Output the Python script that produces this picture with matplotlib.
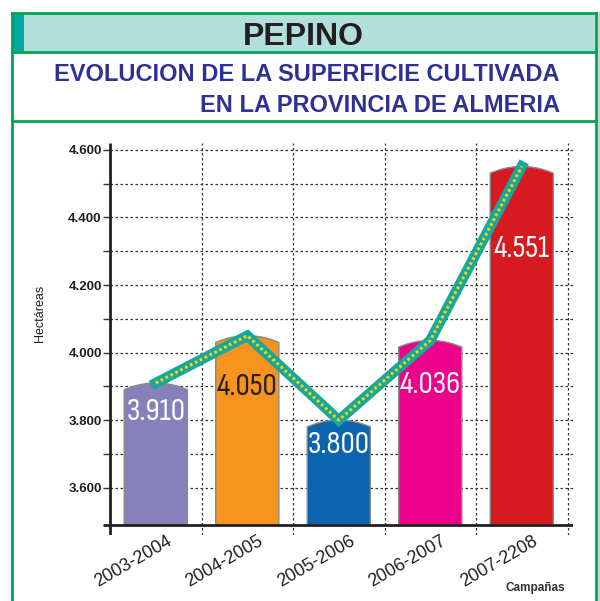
import matplotlib
matplotlib.use("Agg")
import matplotlib.pyplot as plt
from matplotlib.patches import Rectangle, Polygon
from matplotlib.ticker import FuncFormatter
import numpy as np

# data
campaigns = ["2003-2004", "2004-2005", "2005-2006", "2006-2007", "2007-2208"]
hectares = [3910, 4050, 3800, 4036, 4551]
bar_colors = ["#8680bb", "#f7941d", "#0a64ae", "#ec008c", "#d71920"]
label_colors = ["white", "#231f20", "white", "white", "white"]
label_baseline = [3800, 3874, 3703, 3880, 4282]  # where the value labels sit
y_major = [3600, 3800, 4000, 4200, 4400, 4600]
y_minor = [3700, 3900, 4100, 4300, 4500]

narrow = ["Sofia Sans Condensed", "Roboto Condensed", "Liberation Sans"]

def miles(v, pos=None):
    return f"{int(v):,}".replace(",", ".")

fig = plt.figure(figsize=(6, 6.01), dpi=100)

# header / frame drawn in pixel coords
bg = fig.add_axes([0, 0, 1, 1], zorder=0)
bg.set_xlim(0, 600)
bg.set_ylim(601, 0)
bg.axis("off")
green = "#00a651"
bg.add_patch(Rectangle((12, 13), 584, 39, facecolor="#b2dfdb", edgecolor="none"))
bg.add_patch(Rectangle((12, 13), 12, 39, facecolor="#00a99d", edgecolor="none"))
bg.plot([12, 596], [13, 13], color=green, lw=2)
bg.plot([12, 596], [52, 52], color=green, lw=2)
bg.plot([12, 596], [121, 121], color=green, lw=2)
bg.plot([12, 12], [13, 601], color=green, lw=2)
bg.plot([596, 596], [13, 601], color=green, lw=2)
bg.plot([599, 599], [13, 601], color="#d0d0d0", lw=2)
bg.text(303, 45, "PEPINO", ha="center", va="baseline", fontsize=23,
        fontweight="bold", color="#231f20", family="Liberation Sans")
bg.text(560, 81, "EVOLUCION DE LA SUPERFICIE CULTIVADA", ha="right", va="baseline",
        fontsize=17, fontweight="bold", color="#2e3192", family="Liberation Sans")
bg.text(560, 112, "EN LA PROVINCIA DE ALMERIA", ha="right", va="baseline",
        fontsize=17, fontweight="bold", color="#2e3192", family="Liberation Sans")

# main chart
ax = fig.add_axes([0.1712, 0.1098, 0.7838, 0.6548], zorder=1)
ax.patch.set_alpha(0)
base = 3490
ax.set_xlim(-0.58, 4.56)
ax.set_ylim(3460, 4625)
for s in ax.spines.values():
    s.set_visible(False)

grid_kw = dict(color="#333333", lw=0.9, linestyle=(0, (2, 2)), zorder=1)
for y in y_major + y_minor:
    ax.plot([-0.5, 4.56], [y, y], **grid_kw)
for x in np.arange(0.5, 5, 1):
    ax.plot([x, x], [3460, 4620], **grid_kw)

ax.plot([-0.5, -0.5], [3460, 4620], color="#231f20", lw=2, zorder=4, solid_capstyle="butt")
ax.plot([-0.58, 4.56], [base, base], color="#231f20", lw=2, zorder=4, solid_capstyle="butt")

ax.set_yticks(y_major)
ax.set_yticks(y_minor, minor=True)
ax.yaxis.set_major_formatter(FuncFormatter(miles))
ax.tick_params(axis="y", which="both", direction="out", length=5, width=1, color="#333333",
               pad=1, labelsize=9.5, labelcolor="#231f20")
ax.spines["left"].set_position(("data", -0.5))
for lab in ax.get_yticklabels():
    lab.set_fontweight("bold")
    lab.set_family("Liberation Sans")
ax.set_xticks([])

# bars with a rounded top
w = 0.69
dip = 20
for i, (v, c) in enumerate(zip(hectares, bar_colors)):
    xs = np.linspace(i - w / 2, i + w / 2, 40)
    ys = v - dip * ((xs - i) / (w / 2)) ** 2
    pts = [(i - w / 2, base)] + list(zip(xs, ys)) + [(i + w / 2, base)]
    ax.add_patch(Polygon(pts, closed=True, facecolor=c, edgecolor="#8a8a8a", lw=1, zorder=2))

# trend line
x = np.arange(len(hectares))
ax.plot(x, hectares, color="#17a79b", lw=7.5, solid_joinstyle="miter", zorder=5)
ax.plot(x, hectares, color="#f5d30f", lw=2.2, linestyle=(0, (0.9, 0.9)), zorder=6)

for i, (v, c, yb) in enumerate(zip(hectares, label_colors, label_baseline)):
    ax.text(i, yb, miles(v), ha="center", va="baseline", fontsize=23, color=c,
            family=narrow, zorder=7)

for i, lab in enumerate(campaigns):
    ax.text(i + 0.16, base - 45, lab, ha="right", va="center", rotation=30,
            rotation_mode="anchor", fontsize=13, color="#231f20",
            family="Liberation Sans", clip_on=False)

bg.text(40, 313, "Hectáreas", rotation=90, ha="center", va="center", fontsize=9,
        color="#231f20", family="Liberation Sans")
bg.text(535, 588, "Campañas", ha="center", va="center", fontsize=8.5,
        fontweight="bold", color="#333333", family="Liberation Sans")

fig.savefig("out.png", dpi=100)
